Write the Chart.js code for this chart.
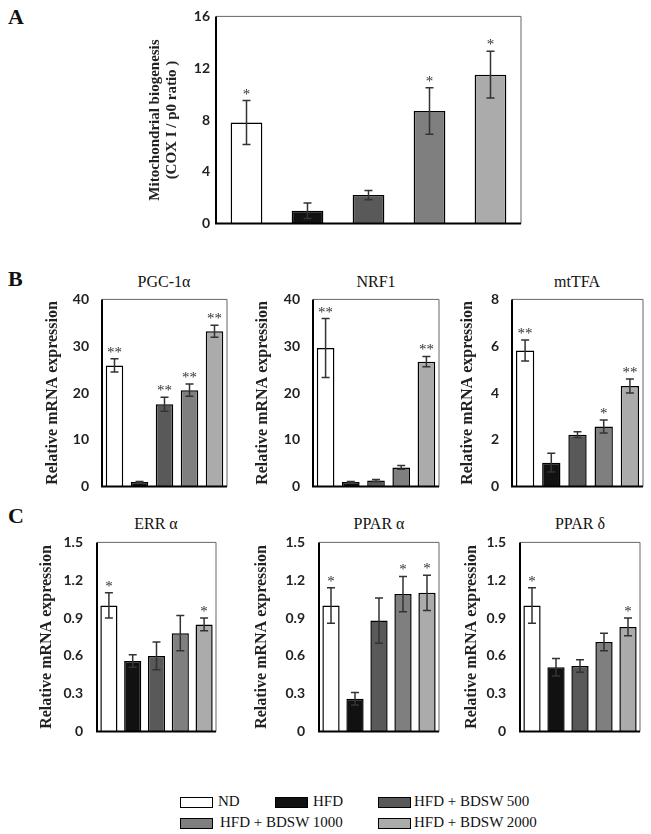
<!DOCTYPE html>
<html>
<head>
<meta charset="utf-8">
<script src="https://cdn.jsdelivr.net/npm/chart.js@4.4.1/dist/chart.umd.min.js"></script>
<style>
  body { margin: 0; background: #fff; }
  #page { position: relative; width: 651px; height: 834px; overflow: hidden; }
  .box { position: absolute; }
  .lbl { position: absolute; font-family: "Liberation Serif", serif; color: #111; white-space: nowrap; }
  .letter { font-weight: bold; font-size: 22px; }
  .ttl { font-size: 16px; transform: translateX(-50%); }
  .sw { position: absolute; width: 31px; height: 9px; border: 1.5px solid #000; }
  .lg { position: absolute; font-family: "Liberation Serif", serif; font-size: 15px; color: #111; white-space: nowrap; }
</style>
</head>
<body>
<div id="page">
  <div class="lbl letter" style="left:8px;top:4px">A</div>
  <div class="lbl letter" style="left:8px;top:266px">B</div>
  <div class="lbl letter" style="left:8px;top:503px">C</div>

  <div class="box" id="wrapA" style="left:147px;top:2px;width:384px;height:236px"><canvas id="chartA"></canvas></div>

  <div class="lbl ttl" style="left:164px;top:273px">PGC-1α</div>
  <div class="lbl ttl" style="left:376px;top:273px">NRF1</div>
  <div class="lbl ttl" style="left:577px;top:273px">mtTFA</div>
  <div class="box" id="wrapB1" style="left:44px;top:278px;width:188px;height:230px"><canvas id="chartB1"></canvas></div>
  <div class="box" id="wrapB2" style="left:254px;top:278px;width:190px;height:230px"><canvas id="chartB2"></canvas></div>
  <div class="box" id="wrapB3" style="left:459px;top:278px;width:190px;height:230px"><canvas id="chartB3"></canvas></div>

  <div class="lbl ttl" style="left:156px;top:515px">ERR α</div>
  <div class="lbl ttl" style="left:379px;top:515px">PPAR α</div>
  <div class="lbl ttl" style="left:580px;top:515px">PPAR δ</div>
  <div class="box" id="wrapC1" style="left:38px;top:520px;width:183px;height:234px"><canvas id="chartC1"></canvas></div>
  <div class="box" id="wrapC2" style="left:253px;top:520px;width:191px;height:234px"><canvas id="chartC2"></canvas></div>
  <div class="box" id="wrapC3" style="left:463px;top:520px;width:181px;height:234px"><canvas id="chartC3"></canvas></div>

  <div id="legend"></div>
</div>

<script>
// groups and bar fills
const groups = ["ND", "HFD", "HFD + BDSW 500", "HFD + BDSW 1000", "HFD + BDSW 2000"];
const groupColors = ["#ffffff", "#111111", "#595959", "#7f7f7f", "#ababab"];

// panel A - mitochondrial biogenesis (COX I / p0 ratio)
const coxValues = [7.8, 1.0, 2.2, 8.7, 11.5];
const coxErrors = [1.7, 0.6, 0.35, 1.8, 1.8];
const coxStars = ["*", "", "", "*", "*"];
const coxTicks = [0, 4, 8, 12, 16];

// panel B
const pgcValues = [25.9, 1.0, 17.6, 20.6, 33.2];
const pgcErrors = [1.4, 0.1, 1.5, 1.3, 1.3];
const pgcStars = ["**", "", "**", "**", "**"];
const nrf1Values = [29.6, 1.0, 1.3, 4.1, 26.7];
const nrf1Errors = [6.3, 0.1, 0.2, 0.4, 1.1];
const nrf1Stars = ["**", "", "", "", "**"];
const mttfaValues = [5.82, 1.02, 2.22, 2.57, 4.3];
const mttfaErrors = [0.45, 0.4, 0.12, 0.28, 0.3];
const mttfaStars = ["**", "", "", "*", "**"];
const ticks40 = [0, 10, 20, 30, 40];
const ticks8 = [0, 2, 4, 6, 8];

// panel C
const erraValues = [1.0, 0.56, 0.6, 0.78, 0.85];
const erraErrors = [0.1, 0.05, 0.11, 0.14, 0.05];
const erraStars = ["*", "", "", "", "*"];
const pparaValues = [1.0, 0.26, 0.88, 1.09, 1.1];
const pparaErrors = [0.14, 0.05, 0.18, 0.14, 0.14];
const pparaStars = ["*", "", "", "*", "*"];
const ppardValues = [1.0, 0.51, 0.52, 0.71, 0.83];
const ppardErrors = [0.14, 0.07, 0.05, 0.07, 0.07];
const ppardStars = ["*", "", "", "", "*"];
const ticks15 = [0, 0.3, 0.6, 0.9, 1.2, 1.5];

const yTitle = "Relative mRNA expression";
const serif = "'Liberation Serif', serif";

// draws the frame, error bars and significance stars
const extrasPlugin = {
    id: "extras",
    afterDatasetsDraw(chart) {
        const ctx = chart.ctx;
        const area = chart.chartArea;
        const y = chart.scales.y;
        const cfg = chart.options.plugins.extras;
        const meta = chart.getDatasetMeta(0);

        ctx.save();
        // frame
        ctx.strokeStyle = "#666";
        ctx.lineWidth = 1;
        ctx.beginPath();
        ctx.moveTo(area.left, area.top);
        ctx.lineTo(area.right, area.top);
        ctx.lineTo(area.right, area.bottom);
        ctx.stroke();
        ctx.strokeStyle = "#000";
        ctx.lineWidth = 2;
        ctx.beginPath();
        ctx.moveTo(area.left, area.top);
        ctx.lineTo(area.left, area.bottom);
        ctx.lineTo(area.right, area.bottom);
        ctx.stroke();

        // error bars
        ctx.strokeStyle = "#333";
        ctx.lineWidth = 1.5;
        meta.data.forEach(function (bar, i) {
            let v = cfg.values[i];
            let e = cfg.errors[i];
            let top = y.getPixelForValue(v + e);
            let bot = y.getPixelForValue(Math.max(v - e, 0));
            ctx.beginPath();
            ctx.moveTo(bar.x, top);
            ctx.lineTo(bar.x, bot);
            ctx.moveTo(bar.x - cfg.cap, top);
            ctx.lineTo(bar.x + cfg.cap, top);
            ctx.moveTo(bar.x - cfg.cap, bot);
            ctx.lineTo(bar.x + cfg.cap, bot);
            ctx.stroke();

            if (cfg.stars[i]) {
                ctx.fillStyle = "#333";
                ctx.font = "15px " + serif;
                ctx.textAlign = "center";
                ctx.textBaseline = "alphabetic";
                ctx.fillText(cfg.stars[i], bar.x, top - 2);
            }
        });
        ctx.restore();
    }
};

function makeChart(id, values, errors, stars, tickList, opts) {
    return new Chart(id, {
        type: "bar",
        data: {
            labels: groups,
            datasets: [{
                data: values,
                backgroundColor: groupColors,
                borderColor: "#000",
                borderWidth: 1.5,
                borderSkipped: "bottom",
                barPercentage: opts.barPct,
                categoryPercentage: 1.0
            }]
        },
        options: {
            responsive: true,
            maintainAspectRatio: false,
            animation: false,
            layout: { padding: { top: 10, bottom: 10, right: opts.padRight, left: 0 } },
            plugins: {
                legend: { display: false },
                tooltip: { enabled: false },
                extras: { values: values, errors: errors, stars: stars, cap: opts.cap }
            },
            scales: {
                x: { display: false },
                y: {
                    min: tickList[0],
                    max: tickList[tickList.length - 1],
                    afterBuildTicks: function (axis) {
                        axis.ticks = tickList.map(function (v) { return { value: v }; });
                    },
                    afterFit: function (axis) { axis.width = opts.yWidth; },
                    grid: { display: false, drawTicks: false },
                    border: { display: false },
                    ticks: {
                        padding: opts.tickPad,
                        color: "#222",
                        font: { family: "Lato, sans-serif", weight: "bold", size: 14 },
                        callback: function (v) { return String(Number(v.toFixed(1))); }
                    },
                    title: {
                        display: true,
                        text: opts.title,
                        color: "#222",
                        padding: { top: 0, bottom: 0 },
                        font: { family: serif, weight: "bold", size: opts.titleSize, lineHeight: 1.1 }
                    }
                }
            }
        },
        plugins: [extrasPlugin]
    });
}

function buildAll() {
    makeChart("chartA", coxValues, coxErrors, coxStars, coxTicks,
        { barPct: 0.52, padRight: 10, yWidth: 69, tickPad: 6, cap: 4, titleSize: 15,
          title: ["Mitochondrial biogenesis", "(COX I / p0 ratio )"] });

    makeChart("chartB1", pgcValues, pgcErrors, pgcStars, ticks40,
        { barPct: 0.7, padRight: 5, yWidth: 58, tickPad: 13, cap: 4, titleSize: 16, title: yTitle });
    makeChart("chartB2", nrf1Values, nrf1Errors, nrf1Stars, ticks40,
        { barPct: 0.7, padRight: 5, yWidth: 59, tickPad: 13, cap: 4, titleSize: 16, title: yTitle });
    makeChart("chartB3", mttfaValues, mttfaErrors, mttfaStars, ticks8,
        { barPct: 0.7, padRight: 6, yWidth: 53, tickPad: 13, cap: 4, titleSize: 16, title: yTitle });

    makeChart("chartC1", erraValues, erraErrors, erraStars, ticks15,
        { barPct: 0.72, padRight: 5, yWidth: 59, tickPad: 14, cap: 4, titleSize: 16, title: yTitle });
    makeChart("chartC2", pparaValues, pparaErrors, pparaStars, ticks15,
        { barPct: 0.72, padRight: 5, yWidth: 66, tickPad: 14, cap: 4, titleSize: 16, title: yTitle });
    makeChart("chartC3", ppardValues, ppardErrors, ppardStars, ticks15,
        { barPct: 0.72, padRight: 4, yWidth: 57, tickPad: 14, cap: 4, titleSize: 16, title: yTitle });
}

// canvas text needs the fonts loaded first
Promise.all([
    document.fonts.load("bold 14px Lato"),
    document.fonts.load("bold 16px 'Liberation Serif'"),
    document.fonts.load("15px 'Liberation Serif'")
]).then(buildAll, buildAll);

// legend built from the group arrays
const legendSpots = [[180, 797, 218], [275, 797, 313], [378, 797, 414], [180, 818, 220], [378, 818, 414]];
const legendEl = document.getElementById("legend");
groups.forEach(function (g, i) {
    let s = document.createElement("div");
    s.className = "sw";
    s.style.left = legendSpots[i][0] + "px";
    s.style.top = legendSpots[i][1] + "px";
    s.style.background = groupColors[i];
    legendEl.appendChild(s);
    let t = document.createElement("div");
    t.className = "lg";
    t.textContent = g;
    t.style.left = legendSpots[i][2] + "px";
    t.style.top = (legendSpots[i][1] - 4) + "px";
    legendEl.appendChild(t);
});
</script>
</body>
</html>
